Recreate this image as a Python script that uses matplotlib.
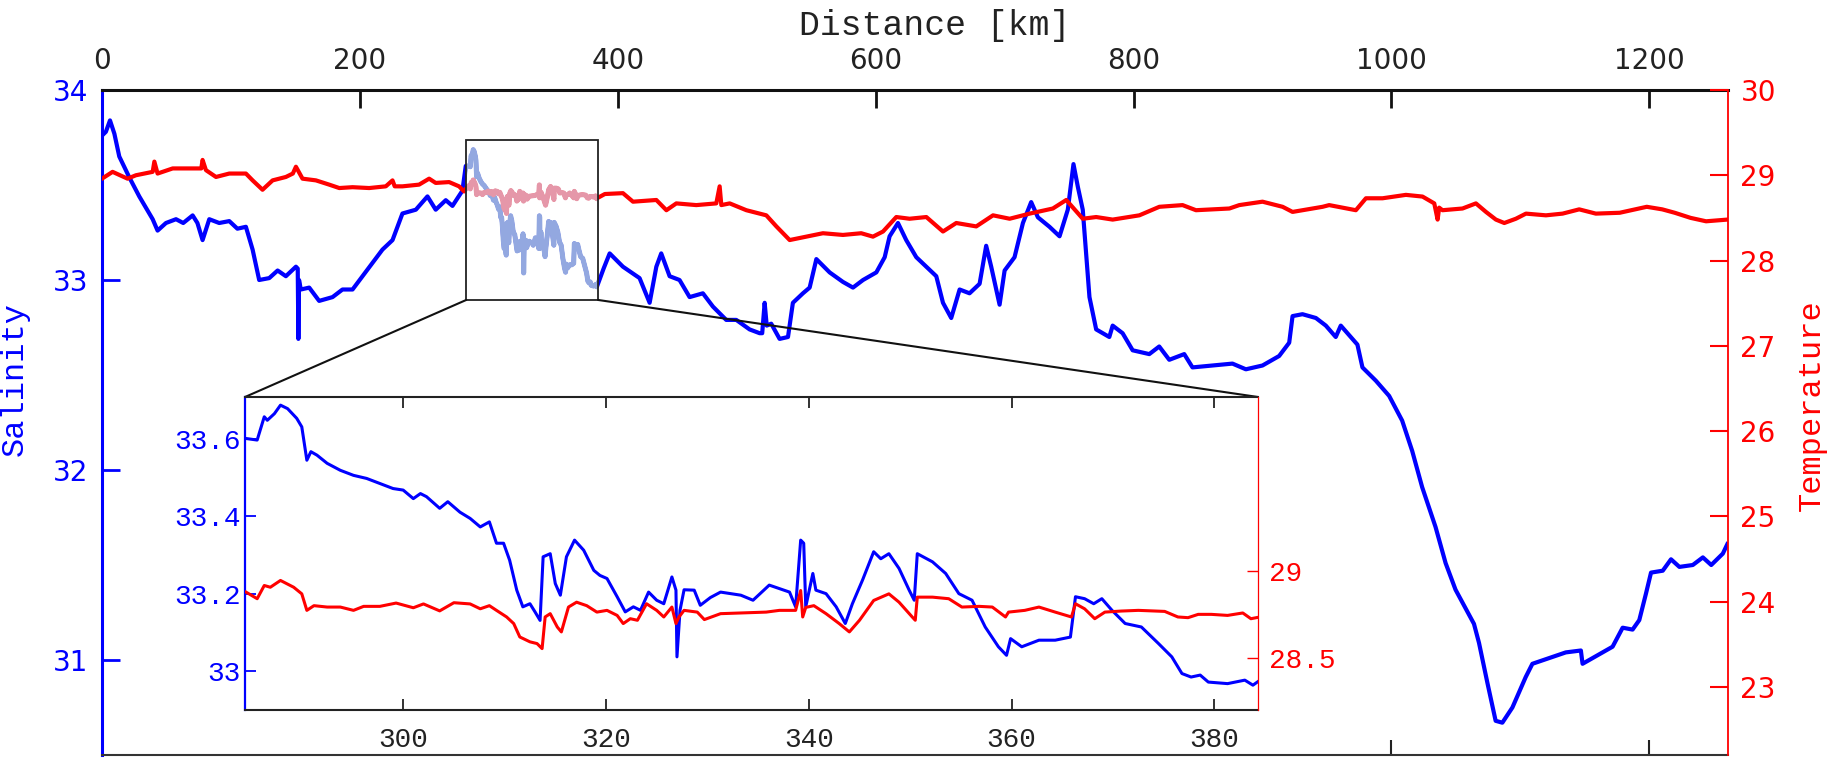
import numpy as np
import matplotlib
matplotlib.use("Agg")
import matplotlib.pyplot as plt
from matplotlib.patches import Rectangle, ConnectionPatch
from matplotlib.ticker import FixedLocator

# ---------------- data ----------------
# main salinity, before the zoomed window
SAL_KM_A = [0, 3, 6.2, 9.6, 13.4, 21.2, 28.9, 39.3, 43.1, 49.6, 57.4, 63, 70.3, 74, 78,
            83.2, 90.9, 98.7, 105, 111.6, 116.8, 121.9, 129.7, 136.2, 142.6, 150.4, 151.8,
            152.3, 152.8, 154.2, 160.7, 168.4, 178.8, 186.5, 194.3, 202, 209.8, 217.5,
            225.3, 233, 243.4, 252.4, 258.8, 266.6, 271.8, 279.5, 282.1]
SAL_A = [33.76, 33.78, 33.84, 33.77, 33.65, 33.54, 33.44, 33.32, 33.26, 33.30, 33.32, 33.30,
         33.34, 33.30, 33.21, 33.32, 33.30, 33.31, 33.27, 33.28, 33.16, 33.00, 33.01, 33.05,
         33.02, 33.07, 33.06, 32.69, 33.0, 32.95, 32.96, 32.89, 32.91, 32.95, 32.95, 33.02,
         33.09, 33.16, 33.21, 33.35, 33.37, 33.44, 33.37, 33.42, 33.39, 33.47, 33.60]

# zoomed window (inset) salinity
ZOOM_SAL_KM = [284.5, 285.6, 286.3, 286.6, 287.3, 287.9, 288.6, 289.5, 290.0, 290.5, 290.9,
               291.5, 292.5, 293.8, 295.1, 296.4, 297.7, 299.0, 300.0, 301.0, 301.7, 302.3,
               303.6, 304.4, 305.6, 306.6, 307.6, 308.5, 309.2, 309.9, 310.5, 311.2, 311.8,
               312.5, 313.0, 313.5, 313.8, 314.5, 315.0, 315.5, 316.1, 316.9, 317.8, 318.8,
               319.4, 320.1, 321.1, 321.9, 322.7, 323.4, 324.2, 325.0, 325.7, 326.5, 326.9,
               327.0, 327.3, 327.7, 328.7, 329.3, 330.3, 331.3, 333.3, 334.5, 336.1, 337.1,
               338.1, 338.7, 339.2, 339.5, 339.7, 340.4, 340.7, 341.7, 342.7, 343.6, 344.3,
               345.3, 346.4, 347.1, 347.9, 348.9, 349.9, 350.4, 350.7, 352.2, 353.5, 354.8,
               356.1, 357.4, 358.7, 359.5, 359.9, 361.0, 362.7, 364.3, 365.8, 366.3, 367.2,
               368.1, 368.9, 369.9, 371.2, 372.8, 374.5, 375.8, 376.8, 377.7, 378.6, 379.4,
               381.3, 383.0, 383.8, 384.5]
ZOOM_SAL = [33.600, 33.596, 33.656, 33.647, 33.664, 33.686, 33.677, 33.652, 33.630, 33.544,
            33.566, 33.557, 33.536, 33.518, 33.505, 33.497, 33.484, 33.471, 33.467, 33.445,
            33.458, 33.450, 33.420, 33.437, 33.410, 33.394, 33.372, 33.385, 33.330, 33.330,
            33.286, 33.209, 33.166, 33.174, 33.153, 33.131, 33.295, 33.303, 33.226, 33.196,
            33.295, 33.338, 33.312, 33.260, 33.247, 33.239, 33.192, 33.153, 33.166, 33.157,
            33.204, 33.183, 33.174, 33.243, 33.209, 33.037, 33.157, 33.210, 33.209, 33.170,
            33.190, 33.204, 33.196, 33.183, 33.222, 33.213, 33.204, 33.166, 33.338, 33.330,
            33.166, 33.252, 33.209, 33.200, 33.166, 33.123, 33.174, 33.235, 33.308, 33.290,
            33.303, 33.265, 33.209, 33.183, 33.303, 33.282, 33.252, 33.200, 33.183, 33.114,
            33.063, 33.041, 33.084, 33.063, 33.080, 33.080, 33.088, 33.192, 33.187, 33.174,
            33.187, 33.157, 33.123, 33.114, 33.071, 33.037, 32.994, 32.985, 32.990, 32.972,
            32.968, 32.977, 32.964, 32.977]

# main salinity, after the zoomed window
SAL_KM_B = [389, 393.7, 404, 416.9, 424.7, 429.9, 433.7, 440.2, 447.9, 455.7, 466, 473.8,
            484.1, 491.9, 502.2, 510, 512, 513.9, 515.5, 519, 525.5, 532, 535.8, 543.6, 548.8,
            554, 564.3, 574.6, 582.4, 590.2, 600.5, 607, 610.8, 617.3, 623.7, 631.5, 639.3,
            647, 652.2, 658.6, 665.1, 672.8, 680.6, 685.7, 689.6, 696.1, 700, 707.7, 714.2,
            720.6, 725.8, 734.8, 742.6, 749, 753.4, 756.8, 760.6, 765.8, 771, 781.2, 783.8,
            791.5, 799.3, 812.2, 819.9, 827.7, 839.3, 845.7, 861.2, 876.7, 887.1, 900, 912.9,
            920.7, 923.3, 931, 941.4, 949.1, 956.8, 960.7, 969.8, 973.6, 977.5, 987.9, 998.2,
            1008.3, 1016.1, 1023.8, 1034.2, 1042, 1049.7, 1064, 1067.9, 1074.4, 1080.8, 1086,
            1093.8, 1104.1, 1109.3, 1122.3, 1135.2, 1146.9, 1148.2, 1158.5, 1171.5, 1179.3,
            1187, 1192.2, 1197.4, 1201.3, 1210.4, 1216.8, 1223.3, 1233.7, 1241.5, 1248, 1257,
            1260.5]
SAL_B = [33.06, 33.14, 33.07, 33.01, 32.88, 33.07, 33.14, 33.02, 33.00, 32.91, 32.93, 32.86,
         32.79, 32.79, 32.74, 32.72, 32.72, 32.88, 32.76, 32.77, 32.69, 32.70, 32.88, 32.93,
         32.96, 33.11, 33.04, 32.99, 32.96, 33.00, 33.04, 33.12, 33.23, 33.30, 33.21, 33.12,
         33.07, 33.02, 32.88, 32.80, 32.95, 32.93, 32.98, 33.18, 33.07, 32.87, 33.05, 33.12,
         33.30, 33.41, 33.33, 33.28, 33.23, 33.37, 33.61, 33.49, 33.37, 32.91, 32.74, 32.70,
         32.76, 32.72, 32.63, 32.61, 32.65, 32.58, 32.61, 32.54, 32.55, 32.56, 32.53, 32.55,
         32.60, 32.67, 32.81, 32.82, 32.80, 32.76, 32.70, 32.76, 32.69, 32.66, 32.54, 32.47,
         32.39, 32.26, 32.10, 31.91, 31.70, 31.51, 31.37, 31.19, 31.09, 30.88, 30.68, 30.67,
         30.75, 30.91, 30.98, 31.01, 31.04, 31.05, 30.98, 31.02, 31.07, 31.17, 31.16, 31.21,
         31.35, 31.46, 31.47, 31.53, 31.49, 31.50, 31.54, 31.50, 31.56, 31.61]

# main temperature, before the zoomed window
T_KM_A = [0, 8.2, 19.8, 26.3, 39.3, 40.6, 43.1, 54.8, 65.1, 77, 78, 80.6, 88.4, 98.7, 111.6,
          116.8, 124.5, 132.3, 142.6, 148, 150.4, 155.5, 165.9, 176.2, 184, 194.3, 207.2,
          220.1, 225.3, 227, 233, 245.9, 253.7, 258.8, 269.2, 276.9, 280.8, 283]
T_A = [28.96, 29.04, 28.96, 29.0, 29.04, 29.16, 29.02, 29.08, 29.08, 29.08, 29.18, 29.06,
       28.98, 29.02, 29.02, 28.94, 28.83, 28.94, 28.98, 29.02, 29.10, 28.96, 28.94, 28.89,
       28.85, 28.86, 28.85, 28.87, 28.94, 28.87, 28.87, 28.89, 28.96, 28.91, 28.92, 28.87,
       28.81, 28.86]

# zoomed window (inset) temperature
ZOOM_T_KM = [284.5, 285.6, 286.3, 286.9, 287.9, 289.2, 290.0, 290.5, 291.2, 292.5, 293.8,
             295.1, 296.1, 297.7, 299.3, 301.0, 302.0, 303.6, 305.0, 306.6, 307.6, 308.5,
             309.2, 310.2, 310.9, 311.5, 312.5, 313.2, 313.7, 314.0, 314.5, 315.2, 315.6,
             316.3, 317.1, 318.1, 319.1, 320.1, 321.1, 321.7, 322.4, 323.1, 324.0, 325.0,
             325.7, 326.5, 326.9, 327.2, 327.7, 329.0, 329.7, 331.3, 333.3, 335.8, 337.1,
             338.7, 339.2, 339.4, 339.7, 340.5, 341.7, 343.0, 344.0, 345.0, 346.4, 347.9,
             348.9, 350.2, 350.5, 350.7, 352.2, 353.8, 355.1, 356.8, 358.1, 359.4, 359.7,
             361.3, 362.7, 364.3, 365.9, 366.3, 367.2, 368.2, 369.2, 370.8, 372.5, 375.1,
             376.4, 377.4, 378.4, 379.7, 381.3, 382.8, 383.6, 384.5]
ZOOM_T = [28.878, 28.840, 28.916, 28.906, 28.945, 28.906, 28.868, 28.773, 28.800, 28.792,
          28.792, 28.773, 28.796, 28.796, 28.815, 28.788, 28.810, 28.770, 28.817, 28.810,
          28.782, 28.800, 28.773, 28.735, 28.697, 28.620, 28.592, 28.582, 28.553, 28.735,
          28.754, 28.677, 28.649, 28.792, 28.820, 28.800, 28.763, 28.773, 28.744, 28.697,
          28.725, 28.716, 28.811, 28.773, 28.735, 28.792, 28.697, 28.735, 28.773, 28.763,
          28.720, 28.754, 28.758, 28.763, 28.773, 28.773, 28.887, 28.735, 28.790, 28.800,
          28.754, 28.697, 28.649, 28.716, 28.830, 28.868, 28.820, 28.735, 28.716, 28.849,
          28.849, 28.840, 28.792, 28.796, 28.792, 28.735, 28.763, 28.773, 28.792, 28.763,
          28.735, 28.811, 28.782, 28.725, 28.763, 28.769, 28.773, 28.767, 28.735, 28.731,
          28.750, 28.750, 28.744, 28.758, 28.725, 28.735]

# main temperature, after the zoomed window
T_KM_B = [390, 404, 411.8, 429.9, 437.7, 445.4, 460.9, 476.4, 479, 480.3, 486.8, 499.7,
          515.2, 523, 533.3, 546.2, 559.1, 574.6, 588.8, 597.9, 605.7, 616, 626.3, 639.3,
          652.2, 662.5, 678, 691, 703.9, 719.4, 737.4, 747.8, 760.6, 771, 783.8, 804.5, 820,
          838, 848.4, 874.3, 882, 900, 915.6, 923.3, 946.6, 951.7, 972.4, 980.2, 993.1,
          1011.2, 1024.1, 1033.2, 1035.8, 1037, 1039.6, 1055.1, 1065.5, 1073.3, 1081,
          1087.5, 1096.5, 1104.3, 1119.8, 1132.7, 1145.6, 1158.5, 1177, 1189, 1198, 1210,
          1219.7, 1232, 1244, 1260.5]
T_B = [28.78, 28.79, 28.69, 28.71, 28.59, 28.67, 28.65, 28.67, 28.87, 28.65, 28.67, 28.59,
       28.53, 28.40, 28.24, 28.28, 28.32, 28.30, 28.32, 28.28, 28.34, 28.51, 28.49, 28.51,
       28.34, 28.44, 28.40, 28.53, 28.49, 28.55, 28.61, 28.71, 28.49, 28.51, 28.48, 28.53,
       28.63, 28.65, 28.59, 28.61, 28.65, 28.69, 28.63, 28.57, 28.63, 28.65, 28.59, 28.73,
       28.73, 28.77, 28.75, 28.67, 28.48, 28.62, 28.59, 28.61, 28.67, 28.57, 28.48, 28.44,
       28.49, 28.55, 28.53, 28.55, 28.60, 28.55, 28.56, 28.60, 28.63, 28.60, 28.56, 28.50,
       28.46, 28.48]

# axes ranges and ticks
DIST_TICKS = [0, 200, 400, 600, 800, 1000, 1200]
SAL_TICKS = [31, 32, 33, 34]
TEMP_TICKS = [23, 24, 25, 26, 27, 28, 29, 30]
ZOOM_DIST_TICKS = [300, 320, 340, 360, 380]
ZOOM_SAL_TICKS = [33.0, 33.2, 33.4, 33.6]
ZOOM_SAL_LABELS = ["33", "33.2", "33.4", "33.6"]
ZOOM_TEMP_TICKS = [28.5, 29.0]
ZOOM_TEMP_LABELS = ["28.5", "29"]
ZOOM_BOX_KM = (282.5, 384.7)
ZOOM_BOX_SAL = (32.895, 33.737)

# ---------------- assemble main series ----------------
sal_km = np.concatenate([SAL_KM_A, ZOOM_SAL_KM, SAL_KM_B])
sal = np.concatenate([SAL_A, ZOOM_SAL, SAL_B])
t_km = np.concatenate([T_KM_A, ZOOM_T_KM, T_KM_B])
temp = np.concatenate([T_A, ZOOM_T, T_B])

BLUE = "#0000ff"
RED = "#ff0000"
FADE_BLUE = "#93a8e0"
FADE_RED = "#e597a9"
MONO = "Liberation Mono"

W, H = 1828, 759
fig = plt.figure(figsize=(W / 100, H / 100), dpi=100)
fig.patch.set_facecolor("white")

# main axes: x 102..1728 px, y 90..755 px
ax = fig.add_axes([102 / W, (H - 755) / H, 1626 / W, 665 / H])
ax.set_xlim(0, 1261)
ax.set_ylim(30.5, 34)
ax.plot(sal_km, sal, color=BLUE, lw=3.0, solid_joinstyle="round", zorder=2)

ax2 = ax.twinx()
ax2.set_ylim(22.2, 30)
ax2.plot(t_km, temp, color=RED, lw=3.0, solid_joinstyle="round", zorder=2)

# faded part inside the zoom box
clip_rect = Rectangle((ZOOM_BOX_KM[0], ZOOM_BOX_SAL[0]),
                      ZOOM_BOX_KM[1] - ZOOM_BOX_KM[0], ZOOM_BOX_SAL[1] - ZOOM_BOX_SAL[0],
                      transform=ax.transData)
fb, = ax2.plot(sal_km, sal, color=FADE_BLUE, lw=3.6, transform=ax.transData, zorder=3)
fb.set_clip_path(clip_rect)
fr, = ax2.plot(t_km, temp, color=FADE_RED, lw=3.6, zorder=3.1)
fr.set_clip_path(clip_rect)
box = Rectangle((ZOOM_BOX_KM[0], ZOOM_BOX_SAL[0]),
                ZOOM_BOX_KM[1] - ZOOM_BOX_KM[0], ZOOM_BOX_SAL[1] - ZOOM_BOX_SAL[0],
                transform=ax.transData, fill=False, edgecolor="#222222", lw=1.3,
                zorder=4, clip_on=False)
ax2.add_patch(box)
ax2.set_ylim(22.2, 30)
ax.set_xlim(0, 1261)

# spines
ax.spines["right"].set_visible(False)
ax.spines["left"].set_color(BLUE)
ax.spines["left"].set_linewidth(2.2)
ax.spines["top"].set_linewidth(2.2)
ax.spines["top"].set_color("#111111")
ax.spines["bottom"].set_linewidth(1.5)
ax.spines["bottom"].set_color("#333333")
for s in ("left", "top", "bottom"):
    ax2.spines[s].set_visible(False)
ax2.spines["right"].set_color(RED)
ax2.spines["right"].set_linewidth(1.3)

# x axis: labels on top, ticks inward
ax.set_xticks(DIST_TICKS)
ax.set_xticklabels([str(v) for v in DIST_TICKS])
ax.tick_params(axis="x", which="major", top=True, labeltop=True, bottom=False,
               labelbottom=False, direction="in", length=13, width=2.0,
               labelsize=20, pad=11, colors="#111111", labelcolor="#222222")
ax.xaxis.remove_overlapping_locs = False
ax.xaxis.set_minor_locator(FixedLocator([1000, 1200]))
ax.tick_params(axis="x", which="minor", top=False, bottom=True, direction="in",
               length=11, width=1.5, colors="#222222")
ax.set_xlabel("Distance [km]", fontsize=25, family=MONO, color="#222222")
ax.xaxis.set_label_position("top")
ax.xaxis.set_label_coords((935 - 102) / 1626, 1 + (90 - 35) / 665)

# left salinity axis
ax.set_yticks(SAL_TICKS)
ax.set_yticklabels([str(v) for v in SAL_TICKS])
ax.tick_params(axis="y", direction="in", length=13, width=2.0, colors=BLUE,
               labelsize=20, pad=10)
ax.set_ylabel("Salinity", color=BLUE, fontsize=23, family=MONO)
ax.yaxis.label.set_verticalalignment("center")
ax.yaxis.set_label_coords((15 - 102) / 1626, 1 - (379 - 90) / 665)

# right temperature axis
ax2.set_yticks(TEMP_TICKS)
ax2.set_yticklabels([str(v) for v in TEMP_TICKS])
ax2.tick_params(axis="y", direction="in", length=13, width=1.5, colors=RED,
                labelsize=20, pad=9)
ax2.set_ylabel("Temperature", color=RED, fontsize=23, family=MONO)
ax2.yaxis.label.set_verticalalignment("center")
ax2.yaxis.set_label_coords((1812 - 102) / 1626, 1 - (405 - 90) / 665)

# ---------------- inset: x 245..1258 px, y 397..710 px ----------------
axins = fig.add_axes([245 / W, (H - 710) / H, 1013 / W, 313 / H])
axins.set_zorder(5)
axins.set_facecolor("white")
axins.plot(ZOOM_SAL_KM, ZOOM_SAL, color=BLUE, lw=2.2)
axins.set_xlim(284.4, 384.3)
axins.set_ylim(32.9, 33.707)
axins2 = axins.twinx()
axins2.set_zorder(6)
axins2.plot(ZOOM_T_KM, ZOOM_T, color=RED, lw=2.2)
axins2.set_ylim(28.2, 30.0)

axins.set_xticks(ZOOM_DIST_TICKS)
axins.set_xticklabels([str(v) for v in ZOOM_DIST_TICKS])
axins.tick_params(axis="x", top=True, bottom=True, direction="in", length=8, width=1.3,
                  labelsize=20, pad=12, colors="#222222", labelfontfamily=MONO)
axins.set_yticks(ZOOM_SAL_TICKS)
axins.set_yticklabels(ZOOM_SAL_LABELS)
axins.tick_params(axis="y", direction="in", length=8, width=1.3, colors=BLUE,
                  labelsize=20, pad=3, labelfontfamily=MONO)
axins2.set_yticks(ZOOM_TEMP_TICKS)
axins2.set_yticklabels(ZOOM_TEMP_LABELS)
axins2.tick_params(axis="y", direction="in", length=8, width=1.0, colors=RED,
                   labelsize=20, pad=8, labelfontfamily=MONO)

axins.spines["right"].set_visible(False)
axins.spines["left"].set_color(BLUE)
axins.spines["left"].set_linewidth(1.6)
axins.spines["top"].set_linewidth(1.5)
axins.spines["bottom"].set_linewidth(1.5)
axins.spines["top"].set_color("#222222")
axins.spines["bottom"].set_color("#222222")
for s in ("left", "top", "bottom"):
    axins2.spines[s].set_visible(False)
axins2.spines["right"].set_color(RED)
axins2.spines["right"].set_linewidth(0.9)

# connector lines from the zoom box to the inset
for xk, cx in ((ZOOM_BOX_KM[0], 0), (ZOOM_BOX_KM[1], 1)):
    con = ConnectionPatch(xyA=(xk, ZOOM_BOX_SAL[0]), coordsA=ax.transData,
                          xyB=(cx, 1), coordsB=axins.transAxes,
                          color="#111111", lw=1.5)
    con.set_zorder(1)
    fig.add_artist(con)

fig.savefig("out.png", dpi=100, facecolor="white")
